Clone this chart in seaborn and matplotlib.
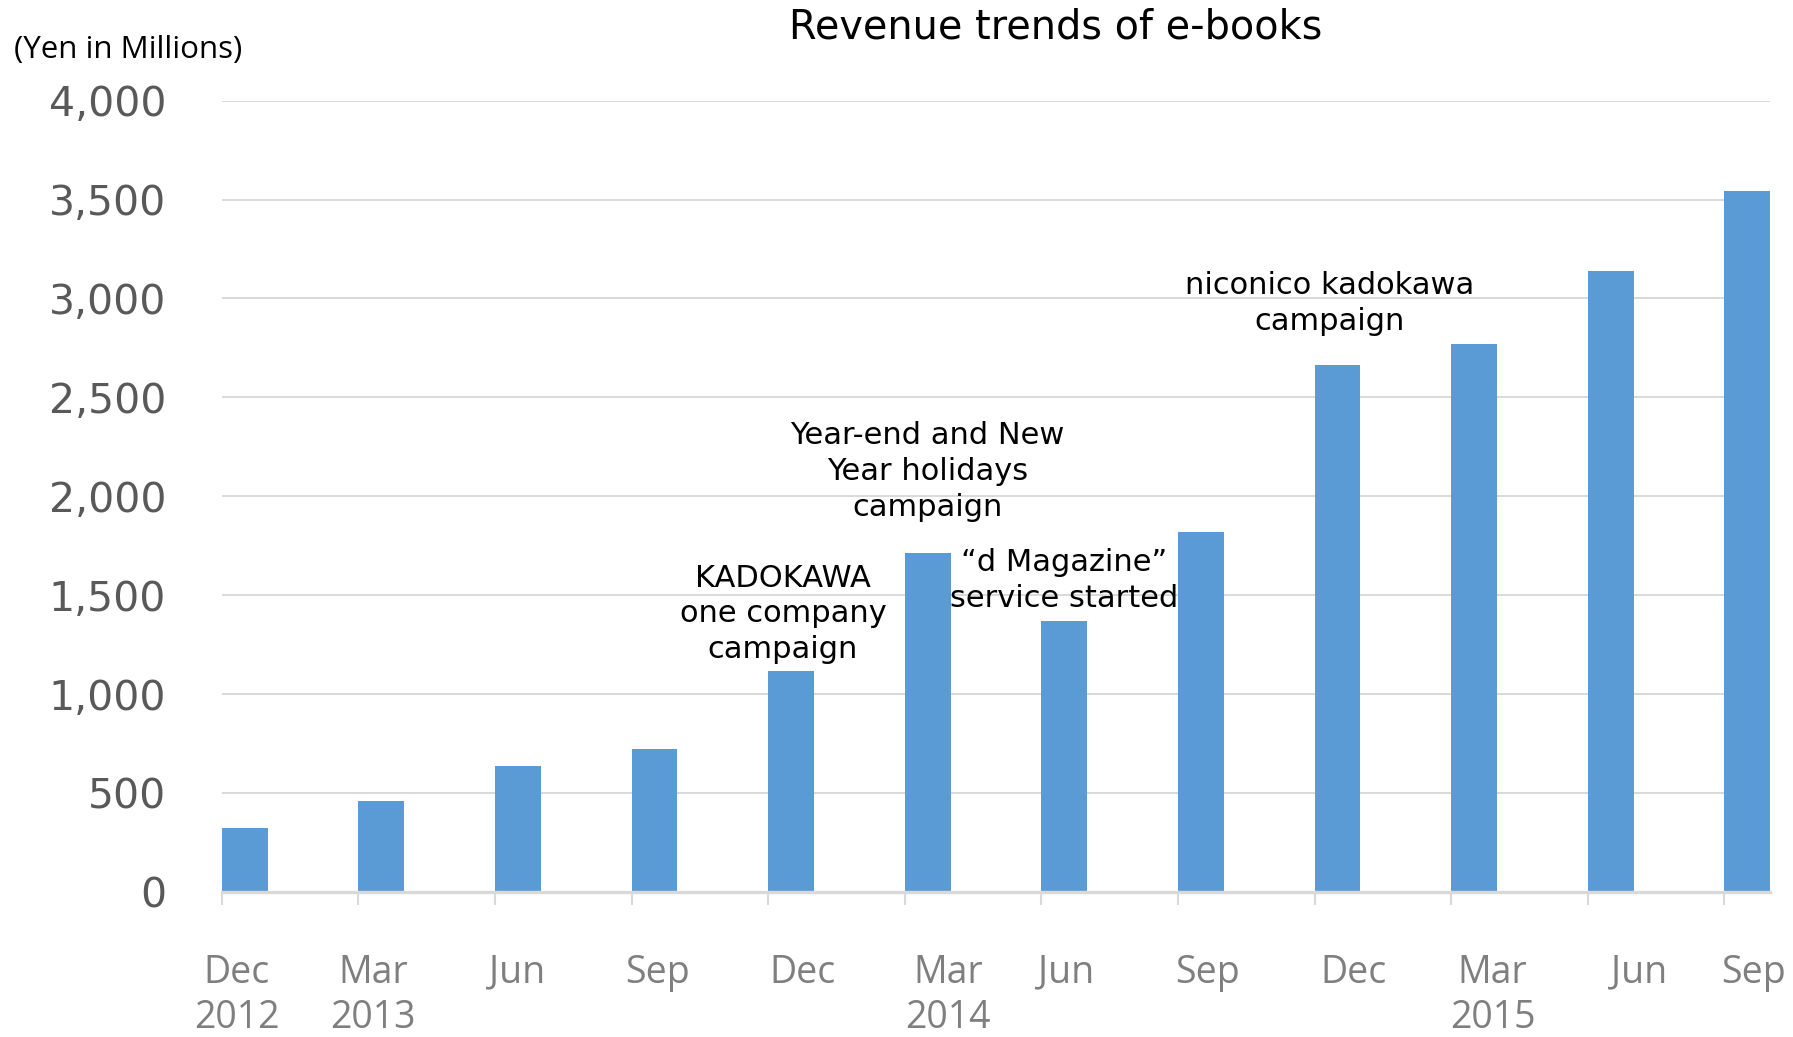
import matplotlib
matplotlib.use("Agg")
import matplotlib.pyplot as plt
import seaborn as sns
import pandas as pd
from matplotlib.ticker import FuncFormatter

# Quarterly e-book revenue (Yen in millions)
period_keys = ["2012-12", "2013-03", "2013-06", "2013-09", "2013-12", "2014-03",
               "2014-06", "2014-09", "2014-12", "2015-03", "2015-06", "2015-09"]
period_labels = ["Dec\n2012", "Mar\n2013", "Jun", "Sep", "Dec", "Mar\n2014",
                 "Jun", "Sep", "Dec", "Mar\n2015", "Jun", "Sep"]
revenue = [324, 462, 636, 723, 1116, 1713, 1370, 1821, 2665, 2769, 3140, 3543]

# Event notes: text, x position (bar index units), y position (value units)
note_texts = ["KADOKAWA\none company\ncampaign",
              "Year-end and New\nYear holidays\ncampaign",
              "\u201cd Magazine\u201d\nservice started",
              "niconico kadokawa\ncampaign"]
note_x = [3.94, 5.0, 6.0, 7.94]
note_y = [1405, 2127, 1572, 2975]

y_ticks = list(range(0, 4001, 500))

BAR_COLOR = "#5b9bd5"
GRID_COLOR = "#d9d9d9"
YTICK_TEXT = "#595959"
XTICK_TEXT = "#7f7f7f"
BAR_W = 0.335
# horizontal nudge (points) of each period label from its bar centre
LABEL_DX = [-5.6, -6.0, -0.6, 2.5, 8.4, 14.6, 1.2, 4.4, 11.5, 13.4, 20.4, 4.5]

sns.set_theme(style="white")
plt.rcParams["font.family"] = ["DejaVu Sans"]

df = pd.DataFrame({"period": period_keys, "revenue": revenue})

fig = plt.figure(figsize=(17.93, 10.37), dpi=100)
ax = fig.add_axes([0.1237, 0.1399, 0.8636, 0.7631])

sns.barplot(data=df, x="period", y="revenue", order=period_keys,
            color=BAR_COLOR, saturation=1, width=BAR_W, linewidth=0,
            ax=ax, zorder=3)

n = len(period_keys)
ax.set_xlim(-BAR_W / 2, n - 1 + BAR_W / 2)
ax.set_ylim(0, 4000)

# y axis
ax.set_yticks(y_ticks)
ax.yaxis.set_major_formatter(FuncFormatter(lambda v, _: f"{int(v):,}"))
ax.tick_params(axis="y", length=0, pad=40, labelsize=29.5, labelcolor=YTICK_TEXT)
ax.yaxis.grid(True, color=GRID_COLOR, linewidth=1.4, zorder=0)
ax.set_axisbelow(True)

# x axis: tick marks at bar left edges
ax.set_xticks([c - BAR_W / 2 for c in range(n)])
ax.set_xticklabels([])
ax.tick_params(axis="x", which="major", length=9, width=1.5, color=GRID_COLOR,
               direction="out", bottom=True)

# period labels under the bars
for i, (lab, dx) in enumerate(zip(period_labels, LABEL_DX)):
    ax.annotate(lab, xy=(i, 0), xycoords=("data", "axes fraction"),
                xytext=(dx, -44.5), textcoords="offset points",
                ha="center", va="top", fontsize=27, color=XTICK_TEXT,
                linespacing=1.26, annotation_clip=False,
                family=["Open Sans", "DejaVu Sans"])

ax.set_xlabel("")
ax.set_ylabel("")
for side in ["top", "right", "left"]:
    ax.spines[side].set_visible(False)
ax.spines["bottom"].set_color(GRID_COLOR)
ax.spines["bottom"].set_linewidth(2.4)
ax.spines["bottom"].set_zorder(4)

# event notes
for txt, xv, yv in zip(note_texts, note_x, note_y):
    ax.text(xv, yv, txt, ha="center", va="center", fontsize=22,
            color="black", linespacing=1.3, zorder=5)

fig.text(0.589, 0.9737, "Revenue trends of e-books", ha="center", va="center",
         fontsize=28.6, color="black")
fig.text(0.0076, 0.9515, "(Yen in Millions)", ha="left", va="center",
         fontsize=22.5, color="black", family=["Open Sans", "DejaVu Sans"])

fig.savefig("out.png", dpi=100, facecolor="white")
